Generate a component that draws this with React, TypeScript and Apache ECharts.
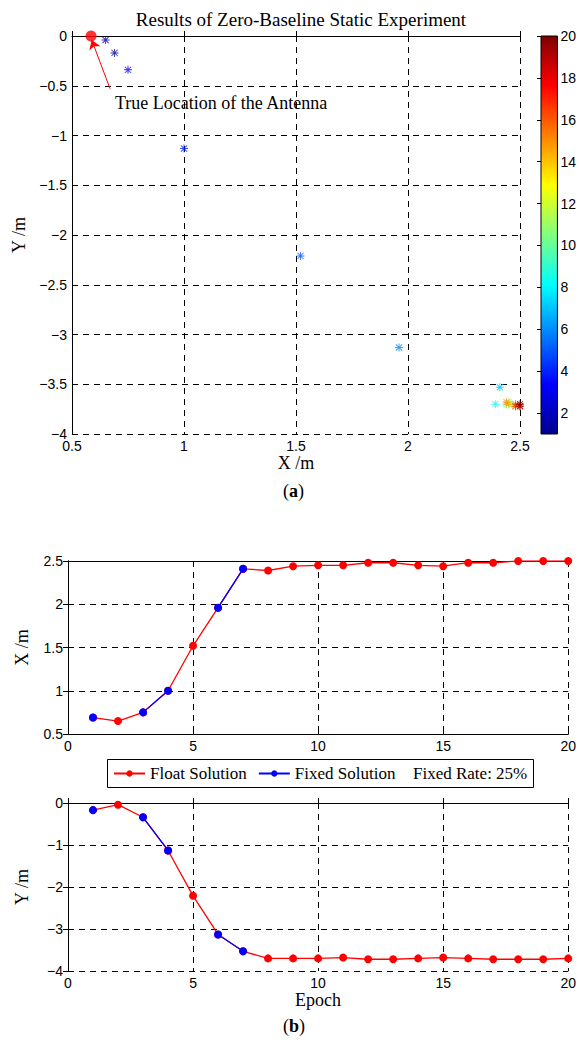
import React, { useEffect, useRef } from "react";
import * as echarts from "echarts";

const epochs = [1, 2, 3, 4, 5, 6, 7, 8, 9, 10, 11, 12, 13, 14, 15, 16, 17, 18, 19, 20];
const xPos = [0.69, 0.65, 0.75, 1.0, 1.52, 1.96, 2.41, 2.39, 2.44, 2.45, 2.45, 2.48, 2.48, 2.45, 2.44, 2.48, 2.48, 2.5, 2.5, 2.5];
const yPos = [-0.17, -0.04, -0.34, -1.13, -2.21, -3.13, -3.53, -3.7, -3.7, -3.7, -3.68, -3.72, -3.72, -3.7, -3.68, -3.7, -3.72, -3.72, -3.72, -3.7];
const fixedEpochs = [1, 3, 4, 6, 7];
const trueLocation = [0.585, 0];
const arrowFrom = [0.67, -0.53];
const arrowTo = [0.588, -0.04];
const colorbarTicks = [2, 4, 6, 8, 10, 12, 14, 16, 18, 20];
const jet = ["#00008F", "#0000FF", "#0080FF", "#00FFFF", "#80FF80", "#FFFF00", "#FF8000", "#FF0000", "#800000"];

const SERIF = "Liberation Serif";
const SANS = "Liberation Sans";

const STAR =
  "path://M4.4,0h1.2v10h-1.2z M0,4.4h10v1.2h-10z M1.5,0.7L9.3,8.5L8.5,9.3L0.7,1.5z M8.5,0.7L9.3,1.5L1.5,9.3L0.7,8.5z";

const fmt = (v: number) => String(v).replace("-", "\u2212");
const tickLabelX = { color: "#000", fontFamily: SANS, fontSize: 14, margin: 5, formatter: fmt };
const tickLabelY = { color: "#000", fontFamily: SANS, fontSize: 14, margin: 5, formatter: fmt };
const solidLine = { show: true, lineStyle: { color: "#000", width: 1 } };
const dashed = { show: true, lineStyle: { color: "#000", type: [6, 5], width: 1 } };
const tickIn = { show: true, inside: true, length: 5, lineStyle: { color: "#000" } };

function mainValueAxis(extra: any, isX: boolean) {
  return {
    type: "value",
    axisLine: solidLine,
    axisTick: tickIn,
    axisLabel: isX ? tickLabelX : tickLabelY,
    splitLine: dashed,
    nameTextStyle: { color: "#000", fontFamily: SERIF, fontSize: 18 },
    nameLocation: "middle",
    ...extra,
  };
}
function mirrorAxis(extra: any) {
  return {
    type: "value",
    axisLine: solidLine,
    axisTick: tickIn,
    axisLabel: { show: false },
    splitLine: { show: false },
    ...extra,
  };
}

export default function App() {
  const ref = useRef<HTMLDivElement>(null);
  useEffect(() => {
    const chart = echarts.init(ref.current!, null, { renderer: "svg" });
    const scatterData = epochs.map((e, i) => [xPos[i], yPos[i], e]);
    const floatX = epochs.map((e, i) => [e, xPos[i]]);
    const floatY = epochs.map((e, i) => [e, yPos[i]]);
    const fixedX = epochs.map((e, i) => (fixedEpochs.includes(e) ? [e, xPos[i]] : [e, "-"]));
    const fixedY = epochs.map((e, i) => (fixedEpochs.includes(e) ? [e, yPos[i]] : [e, "-"]));
    const jetStops = jet
      .slice()
      .reverse()
      .map((c, i) => ({ offset: i / (jet.length - 1), color: c }));

    chart.setOption({
      animation: false,
      backgroundColor: "#fff",
      title: {
        text: "Results of Zero-Baseline Static Experiment",
        left: 296,
        textAlign: "center",
        top: 5,
        textStyle: { fontFamily: SERIF, fontSize: 19, fontWeight: "normal", color: "#000" },
      },
      grid: [
        { left: 72, top: 36, width: 448, height: 398 },
        { left: 68, top: 561, width: 501, height: 173 },
        { left: 68, top: 803, width: 501, height: 168 },
        { left: 541, top: 36, width: 22, height: 398 },
      ],
      xAxis: [
        mainValueAxis({ gridIndex: 0, min: 0.5, max: 2.5, interval: 0.5, name: "X /m", nameGap: 19 }, true),
        mainValueAxis({ gridIndex: 1, min: 0, max: 20, interval: 5 }, true),
        mirrorAxis({ gridIndex: 1, min: 0, max: 20, interval: 5, position: "top" }),
        mainValueAxis({ gridIndex: 2, min: 0, max: 20, interval: 5, name: "Epoch", nameGap: 19 }, true),
        mirrorAxis({ gridIndex: 2, min: 0, max: 20, interval: 5, position: "top" }),
        { type: "value", gridIndex: 3, min: 0, max: 1, show: false },
      ],
      yAxis: [
        mainValueAxis({ gridIndex: 0, min: -4, max: 0, interval: 0.5, name: "Y /m", nameGap: 41, nameRotate: 90 }, false),
        mainValueAxis({ gridIndex: 1, min: 0.5, max: 2.5, interval: 0.5, name: "X /m", nameGap: 37, nameRotate: 90 }, false),
        mirrorAxis({ gridIndex: 1, min: 0.5, max: 2.5, interval: 0.5, position: "right" }),
        mainValueAxis({ gridIndex: 2, min: -4, max: 0, interval: 1, name: "Y /m", nameGap: 37, nameRotate: 90 }, false),
        mirrorAxis({ gridIndex: 2, min: -4, max: 0, interval: 1, position: "right" }),
        {
          type: "value",
          gridIndex: 3,
          min: 1,
          max: 20,
          position: "right",
          axisLine: { show: false },
          axisTick: { show: true, inside: true, length: 4, customValues: colorbarTicks, lineStyle: { color: "#000" } },
          axisLabel: { color: "#000", fontFamily: SANS, fontSize: 14, margin: 3, customValues: colorbarTicks },
          splitLine: { show: false },
        },
        {
          type: "value",
          gridIndex: 3,
          min: 1,
          max: 20,
          position: "left",
          axisLine: { show: false },
          axisTick: { show: true, inside: true, length: 4, customValues: colorbarTicks, lineStyle: { color: "#000" } },
          axisLabel: { show: false },
          splitLine: { show: false },
        },
      ],
      visualMap: {
        type: "continuous",
        show: false,
        dimension: 2,
        min: 1,
        max: 20,
        seriesIndex: 0,
        inRange: { color: jet },
      },
      legend: {
        left: 113,
        top: 765,
        padding: 0,
        itemWidth: 31,
        itemHeight: 8,
        itemGap: 11,
        data: ["Float Solution", "Fixed Solution"],
        textStyle: { fontFamily: SERIF, fontSize: 17, color: "#000", lineHeight: 17 },
      },
      graphic: [
        {
          type: "rect",
          shape: { x: 107.5, y: 759.5, width: 426, height: 28 },
          style: { fill: "none", stroke: "#000", lineWidth: 1 },
          z: 10,
        },
        {
          type: "text",
          left: 413,
          top: 765,
          style: { text: "Fixed Rate: 25%", font: `17px "${SERIF}"`, fill: "#000" },
        },
        {
          type: "text",
          left: 115,
          top: 94,
          style: { text: "True Location of the Antenna", font: `18px "${SERIF}"`, fill: "#000" },
        },
        {
          type: "text",
          left: 283,
          top: 482,
          style: {
            text: "({a|a})",
            font: `18px "${SERIF}"`,
            fill: "#000",
            rich: { a: { fontFamily: SERIF, fontSize: 18, fontWeight: "bold" } },
          },
        },
        {
          type: "text",
          left: 283,
          top: 1017,
          style: {
            text: "({a|b})",
            font: `18px "${SERIF}"`,
            fill: "#000",
            rich: { a: { fontFamily: SERIF, fontSize: 18, fontWeight: "bold" } },
          },
        },
      ],
      series: [
        {
          type: "scatter",
          xAxisIndex: 0,
          yAxisIndex: 0,
          symbol: STAR,
          symbolSize: 8,
          data: scatterData,
          z: 3,
        },
        {
          type: "scatter",
          xAxisIndex: 0,
          yAxisIndex: 0,
          symbolSize: 11,
          itemStyle: { color: "#FF0000" },
          data: [trueLocation],
          z: 4,
          markLine: {
            silent: true,
            symbol: ["none", "arrow"],
            symbolSize: 9,
            label: { show: false },
            lineStyle: { color: "#FF0000", type: "solid", width: 1 },
            data: [[{ coord: arrowFrom }, { coord: arrowTo }]],
          },
        },
        {
          name: "Float Solution",
          type: "line",
          xAxisIndex: 1,
          yAxisIndex: 1,
          data: floatX,
          symbol: "circle",
          symbolSize: 8,
          showAllSymbol: true,
          lineStyle: { color: "#FF0000", width: 1.3 },
          itemStyle: { color: "#FF0000" },
          z: 3,
        },
        {
          name: "Fixed Solution",
          type: "line",
          xAxisIndex: 1,
          yAxisIndex: 1,
          data: fixedX,
          symbol: "circle",
          symbolSize: 8,
          showAllSymbol: true,
          connectNulls: false,
          lineStyle: { color: "#0000FF", width: 1.3 },
          itemStyle: { color: "#0000FF" },
          z: 4,
        },
        {
          name: "Float Solution",
          type: "line",
          xAxisIndex: 3,
          yAxisIndex: 3,
          data: floatY,
          symbol: "circle",
          symbolSize: 8,
          showAllSymbol: true,
          lineStyle: { color: "#FF0000", width: 1.3 },
          itemStyle: { color: "#FF0000" },
          z: 3,
        },
        {
          name: "Fixed Solution",
          type: "line",
          xAxisIndex: 3,
          yAxisIndex: 3,
          data: fixedY,
          symbol: "circle",
          symbolSize: 8,
          showAllSymbol: true,
          connectNulls: false,
          lineStyle: { color: "#0000FF", width: 1.3 },
          itemStyle: { color: "#0000FF" },
          z: 4,
        },
        {
          type: "custom",
          xAxisIndex: 5,
          yAxisIndex: 5,
          data: [[0, 1]],
          silent: true,
          renderItem: (params: any, api: any) => {
            const p1 = api.coord([0, 20]);
            const p2 = api.coord([1, 1]);
            return {
              type: "rect",
              shape: { x: p1[0], y: p1[1], width: p2[0] - p1[0], height: p2[1] - p1[1] },
              style: {
                fill: new echarts.graphic.LinearGradient(0, 0, 0, 1, jetStops),
                stroke: "#000",
                lineWidth: 1,
              },
            };
          },
        },
      ],
    });
    return () => chart.dispose();
  }, []);
  return (
    <div
      ref={ref}
      style={{ position: "fixed", left: 0, top: 0, width: 579, height: 1050, background: "#fff" }}
    />
  );
}
